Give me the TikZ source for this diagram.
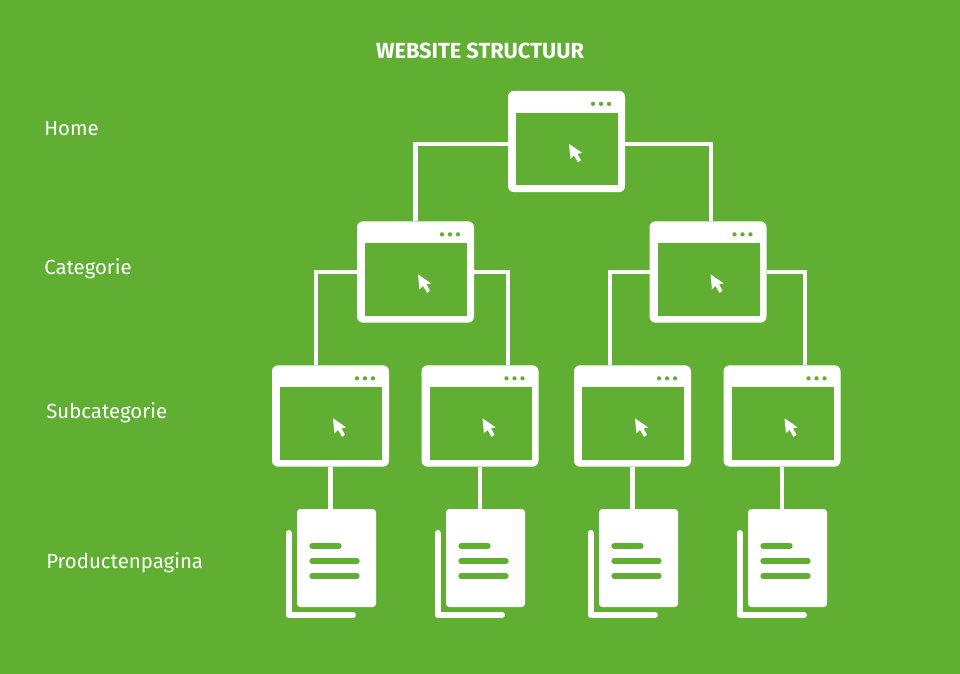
\documentclass[tikz,border=0pt]{standalone}
\usepackage{fontspec}
\setmainfont{Fira Sans}
\definecolor{bg}{RGB}{96,175,50}
\newcommand{\wininner}[1]{%
  \fill[bg] ([shift={(8,22)}]#1.north west) rectangle ([shift={(-7,-7)}]#1.south east);
  \foreach \dx in {85,93,101} \fill[bg] ([shift={(\dx,13)}]#1.north west) circle (1.6pt);
  \begin{scope}[shift={([shift={(61,53)}]#1.north west)}]
    \fill[white] (0,0) -- (1.5,15) -- (5,11.5) -- (9,18.5) -- (12,16.5) -- (8.5,10) -- (13,9) -- cycle;
  \end{scope}}
\newcommand{\docicon}[1]{%
  \draw[backline] ([shift={(-8.5,24)}]#1.north west) -- ([shift={(-8.5,106)}]#1.north west) -- ([shift={(56,106)}]#1.north west);
  \foreach \dy/\xb in {37/42,52/60,67/60}
    \draw[docline] ([shift={(15,\dy)}]#1.north west) -- ([shift={(\xb,\dy)}]#1.north west);}
\tikzset{
  x=0.75pt,y=-0.75pt,
  winbox/.style={fill=white,rounded corners=4.5pt,minimum width=87.75pt,minimum height=76pt,inner sep=0pt,outer sep=0pt},
  docbox/.style={fill=white,rounded corners=2.5pt,minimum width=59.25pt,minimum height=73.5pt,inner sep=0pt,outer sep=0pt},
  conn/.style={draw=white,line width=3.2pt},
  backline/.style={draw=white,line width=4.5pt,line cap=round,line join=round},
  docline/.style={draw=bg,line width=4pt,line cap=round},
  side/.style={text=white,anchor=west,font=\fontsize{15.3pt}{18pt}\selectfont,inner sep=0pt},
}
\begin{document}
\begin{tikzpicture}
\useasboundingbox (0,0) rectangle (960,674);
\fill[bg] (0,0) rectangle (960,674);
\node[text=white,font=\fontsize{16.4pt}{18pt}\selectfont\bfseries,inner sep=0pt] (title) at (480,51) {WEBSITE STRUCTUUR};
\node[side] (l1) at (44,128.5) {Home};
\node[side] (l2) at (44,268.5) {Categorie};
\node[side] (l3) at (46,412.5) {Subcategorie};
\node[side] (l4) at (46,562.5) {Productenpagina};
\node[winbox] (home) at (566.5,141.5) {};
\node[winbox] (c1) at (415.5,272) {};
\node[winbox] (c2) at (708,272) {};
\node[winbox] (s1) at (330.5,416) {};
\node[winbox] (s2) at (480,416) {};
\node[winbox] (s3) at (632.5,416) {};
\node[winbox] (s4) at (782,416) {};
\node[docbox] (d1) at (336.5,558) {};
\node[docbox] (d2) at (485.5,558) {};
\node[docbox] (d3) at (638.5,558) {};
\node[docbox] (d4) at (787.5,558) {};
\draw[conn] ([yshift=-2pt]home.west) -| (c1.north);
\draw[conn] ([yshift=-2pt]home.east) -| ([xshift=2pt]c2.north);
\draw[conn] (c1.west) -| ([xshift=-11pt]s1.north);
\draw[conn] (c1.east) -| ([xshift=21pt]s2.north);
\draw[conn] (c2.west) -| ([xshift=-17pt]s3.north);
\draw[conn] (c2.east) -| ([xshift=17pt]s4.north);
\foreach \a/\b in {s1/d1,s2/d2,s3/d3,s4/d4}
  \draw[conn] (\a.south) -- (\a.south |- \b.north);
\foreach \w in {home,c1,c2,s1,s2,s3,s4} {\wininner{\w}}
\foreach \w in {d1,d2,d3,d4} {\docicon{\w}}
\end{tikzpicture}
\end{document}
